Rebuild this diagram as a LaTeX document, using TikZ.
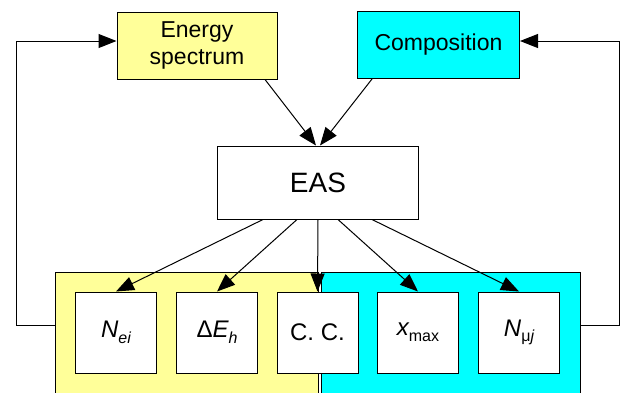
\documentclass[tikz,border=0pt]{standalone}
\usepackage{fontspec}
\setmainfont{Liberation Sans}
\usetikzlibrary{arrows.meta}
\definecolor{lightYellow}{HTML}{FFFF99}
\definecolor{brightCyan}{HTML}{00FFFF}
\newcommand{\lowsub}[1]{\raisebox{-0.45ex}{\fontsize{16}{18}\selectfont #1}}
\tikzset{
  box/.style={draw,line width=1pt,inner sep=0pt,align=center},
  obsbox/.style={box,fill=white,minimum width=81,minimum height=81,font=\fontsize{24}{28}\selectfont},
  arr/.style={-{Triangle[length=18pt,width=14pt]},line width=1pt}
}
\begin{document}
\begin{tikzpicture}[x=1pt,y=-1pt]
\useasboundingbox (0,0) rectangle (621,392);
\node[box,fill=lightYellow,minimum width=160,minimum height=67,font=\fontsize{23}{27}\selectfont] (en) at (197,45.5) {Energy\\spectrum};
\node[box,fill=brightCyan,minimum width=162,minimum height=67,font=\fontsize{23}{27}\selectfont] (comp) at (438.5,45) {Composition};
\node[box,fill=white,minimum width=201,minimum height=73,font=\fontsize{28}{32}\selectfont] (eas) at (318,182.5) {EAS};
\node[box,fill=lightYellow,minimum width=263,minimum height=140,anchor=north west] (yel) at (55,272) {};
\node[box,fill=brightCyan,minimum width=259.5,minimum height=140,anchor=north west] (cyn) at (320.5,272) {};
\node[obsbox] (nei) at (116,332.5) {\itshape N\lowsub{ei}};
\node[obsbox] (deh) at (217,332.5) {Δ\itshape E\lowsub{h}};
\node[obsbox] (cc) at (317.5,332.5) {C. C.};
\node[obsbox] (xmax) at (418,332.5) {\itshape x\lowsub{\upshape max}};
\node[obsbox] (nmu) at (519,332.5) {\itshape N\lowsub{\upshape μ\itshape j}};
\draw[arr] ([xshift=68]en.south) -- ([xshift=-2]eas.north);
\draw[arr] ([xshift=-66.5]comp.south) -- ([xshift=2]eas.north);
\draw[arr] ([xshift=-55]eas.south) -- (nei.north);
\draw[arr] ([xshift=-21]eas.south) -- (deh.north);
\draw[arr] (eas.south) -- (cc.north);
\draw[arr] ([xshift=20]eas.south) -- (xmax.north);
\draw[arr] ([xshift=54]eas.south) -- (nmu.north);
\draw[arr] (yel.west |- 0,325) -- (16,325) |- ([yshift=4.5]en.west);
\draw[arr] (cyn.east |- 0,325) -- (619,325) |- ([yshift=4]comp.east);
\end{tikzpicture}
\end{document}
